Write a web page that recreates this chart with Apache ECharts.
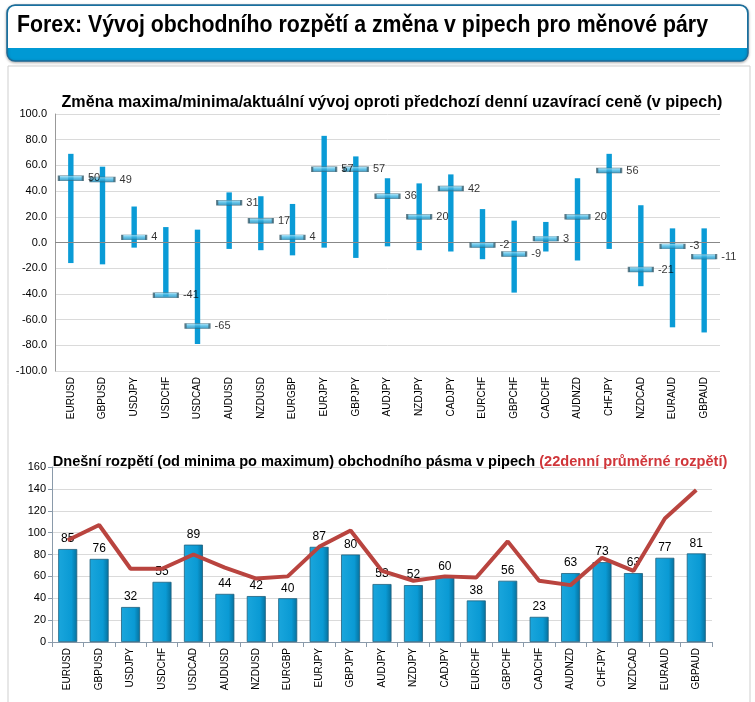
<!DOCTYPE html>
<html><head><meta charset="utf-8">
<script src="https://cdn.jsdelivr.net/npm/echarts@6/dist/echarts.min.js"></script>
<style>html,body{margin:0;padding:0;background:#fff}#c{width:755px;height:702px}</style>
</head><body><div id="c"></div>
<script>
const categories = ['EURUSD','GBPUSD','USDJPY','USDCHF','USDCAD','AUDUSD','NZDUSD','EURGBP','EURJPY','GBPJPY','AUDJPY','NZDJPY','CADJPY','EURCHF','GBPCHF','CADCHF','AUDNZD','CHFJPY','NZDCAD','EURAUD','GBPAUD'];
const dayHigh = [69,59,28,12,10,39,36,30,83,67,50,46,53,26,17,16,50,69,29,11,11];
const dayLow = [-16,-17,-4,-42,-79,-5,-6,-10,-4,-12,-3,-6,-7,-13,-39,-7,-14,-5,-34,-66,-70];
const current = [50,49,4,-41,-65,31,17,4,57,57,36,20,42,-2,-9,3,20,56,-21,-3,-11];
const todayRange = [85,76,32,55,89,44,42,40,87,80,53,52,60,38,56,23,63,73,63,77,81];
const avgRange22 = [93,107,67,67,80,68,58,60,87,102,65,56,60,59,92,56,52,77,65,113,139];
const topTicks = [-100,100,20];
const bottomTicks = [0,160,20];

const headerText = 'Forex: Vývoj obchodního rozpětí a změna v pipech pro měnové páry';
const headerFont = 'bold 23px "Liberation Sans", Arial, sans-serif';
const cv = document.createElement('canvas').getContext('2d');
cv.font = headerFont;
const headerScale = 691 / cv.measureText(headerText).width;

const chart = echarts.init(document.getElementById('c'));
const rangeData = categories.map((c,i)=>[i, dayLow[i], dayHigh[i]]);
const font = 'Arial, "Liberation Sans", sans-serif';
const catLabel = {rotate:90, fontSize:10, color:'#000', fontFamily:font, margin:6};
chart.setOption({
  animation:false,
  graphic:[
    {type:'rect', shape:{x:8,y:66,width:742,height:640}, style:{fill:'#fff', stroke:'#cfcfcf', lineWidth:1}},
    {type:'rect', shape:{x:7,y:5,width:741,height:56,r:8}, style:{fill:'#0099d4', stroke:'#1f6a96', lineWidth:1.5, shadowBlur:3, shadowColor:'rgba(0,0,0,0.3)', shadowOffsetY:1}},
    {type:'rect', shape:{x:8,y:6,width:739,height:42,r:[7,7,0,0]}, style:{fill:'#fff'}},
    {type:'text', x:17, y:14, scaleX:headerScale, style:{text:headerText, font:headerFont, fill:'#000'}}
  ],
  title:[
    {text:'Změna maxima/minima/aktuální vývoj oproti předchozí denní uzavírací ceně (v pipech)', left:387, textAlign:'center', top:90, textStyle:{fontSize:16.1, fontWeight:'bold', color:'#000', fontFamily:font}},
    {text:'{a|Dnešní rozpětí (od minima po maximum) obchodního pásma v pipech }{b|(22denní průměrné rozpětí)}', left:385, textAlign:'center', top:449, textStyle:{rich:{a:{fontSize:14.6, fontWeight:'bold', color:'#000', fontFamily:font}, b:{fontSize:14.6, fontWeight:'bold', color:'#d0363a', fontFamily:font}}}}
  ],
  grid:[
    {left:55, right:35, top:114, bottom:331},
    {left:52, right:43, top:467, bottom:60}
  ],
  xAxis:[
    {type:'category', gridIndex:0, data:categories, axisLine:{onZero:false, show:false}, axisTick:{show:false}, axisLabel:catLabel},
    {type:'category', gridIndex:1, data:categories, axisLine:{lineStyle:{color:'#8a9aaa'}}, axisTick:{show:true, length:5, lineStyle:{color:'#8a9aaa'}}, axisLabel:catLabel}
  ],
  yAxis:[
    {type:'value', gridIndex:0, min:topTicks[0], max:topTicks[1], interval:topTicks[2], axisLine:{show:true, lineStyle:{color:'#999'}}, axisTick:{show:false}, splitLine:{lineStyle:{color:'#dadada'}}, axisLabel:{formatter:v=>v.toFixed(1), fontSize:11, color:'#000', fontFamily:font, margin:8}},
    {type:'value', gridIndex:1, min:bottomTicks[0], max:bottomTicks[1], interval:bottomTicks[2], axisLine:{show:true, lineStyle:{color:'#8a9aaa'}}, axisTick:{show:true, length:4, lineStyle:{color:'#8a9aaa'}}, splitLine:{lineStyle:{color:'#dadada'}}, axisLabel:{fontSize:11, color:'#000', fontFamily:font, margin:6}}
  ],
  series:[
    {type:'custom', xAxisIndex:0, yAxisIndex:0, data:rangeData, encode:{x:0, y:[1,2]},
      renderItem:function(params, api){
        const lo = api.coord([api.value(0), api.value(1)]);
        const hi = api.coord([api.value(0), api.value(2)]);
        return {type:'rect', shape:{x:lo[0]-2.7, y:hi[1], width:5.4, height:lo[1]-hi[1]}, style:{fill:'#0a9bd6'}};
      },
      markLine:{silent:true, symbol:'none', label:{show:false}, lineStyle:{color:'#888', type:'solid', width:1}, data:[{yAxis:0}]}
    },
    {type:'scatter', xAxisIndex:0, yAxisIndex:0, data:current, symbol:'rect', symbolSize:[24,5], z:5,
      itemStyle:{color:new echarts.graphic.LinearGradient(0,0,0,1,[{offset:0,color:'#a8e2f8'},{offset:0.5,color:'#3db4e2'},{offset:1,color:'#167fae'}]), borderColor:'#3b5f6e', borderWidth:1},
      label:{show:true, position:'right', distance:4, fontSize:11, color:'#000', fontFamily:font}
    },
    {type:'bar', xAxisIndex:1, yAxisIndex:1, data:todayRange, barWidth:19,
      itemStyle:{color:new echarts.graphic.LinearGradient(0,0,1,0,[{offset:0,color:'#1aa6dc'},{offset:0.7,color:'#0a9ad4'},{offset:1,color:'#06709c'}]), borderColor:'#1f5f7c', borderWidth:0.8},
      label:{show:true, position:'top', distance:4, fontSize:12, color:'#000', fontFamily:font}
    },
    {type:'line', xAxisIndex:1, yAxisIndex:1, data:avgRange22, showSymbol:false, symbol:'none', z:4,
      lineStyle:{color:'#b9443f', width:4}}
  ]
});
</script></body></html>
